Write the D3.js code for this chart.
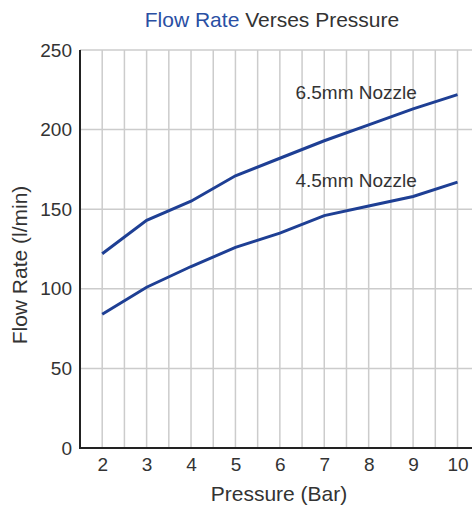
<!DOCTYPE html>
<html>
<head>
<meta charset="utf-8">
<script src="https://cdn.jsdelivr.net/npm/d3@7"></script>
<style>
  body { margin: 0; background: white; }
  text { font-family: "Liberation Sans", Arial, sans-serif; fill: #333; }
</style>
</head>
<body>
<div id="vis"></div>
<script>
// data
const pressure = [2, 3, 4, 5, 6, 7, 8, 9, 10];
const nozzle65 = [122, 143, 155, 171, 182, 193, 203, 213, 222];
const nozzle45 = [84, 101, 114, 126, 135, 146, 152, 158, 167];
const seriesNames = ["6.5mm Nozzle", "4.5mm Nozzle"];
const yTicks = [0, 50, 100, 150, 200, 250];
const xGrid = d3.range(2, 11, 0.5);

let width = 472;
let height = 506;

let margin = { top: 50, bottom: 58, left: 80, right: 0 };

let svg = d3.select("#vis")
  .append("svg")
  .attr("width", width)
  .attr("height", height)
  .style("background", "white");

// scales (x runs a bit past the right edge, as in the original crop)
let xScale = d3.scaleLinear()
  .domain([1.5, 10])
  .range([margin.left, 457.5]);

let yScale = d3.scaleLinear()
  .domain([0, 250])
  .range([height - margin.bottom, margin.top]);

// grid
svg.append("g")
  .selectAll("line")
  .data(xGrid)
  .enter()
  .append("line")
  .attr("x1", d => xScale(d))
  .attr("x2", d => xScale(d))
  .attr("y1", yScale(250))
  .attr("y2", yScale(0))
  .attr("stroke", "#cccccc")
  .attr("stroke-width", 1.5);

svg.append("g")
  .selectAll("line")
  .data(yTicks.filter(d => d > 0))
  .enter()
  .append("line")
  .attr("x1", margin.left)
  .attr("x2", width)
  .attr("y1", d => yScale(d))
  .attr("y2", d => yScale(d))
  .attr("stroke", "#cccccc")
  .attr("stroke-width", 1.5);

// axes
let yAxis = svg.append("g")
  .attr("transform", `translate(${margin.left}, 0)`)
  .call(d3.axisLeft(yScale).tickValues(yTicks).tickSize(0).tickPadding(8));

let xAxis = svg.append("g")
  .attr("transform", `translate(0, ${yScale(0)})`)
  .call(d3.axisBottom(xScale).tickValues(pressure).tickSize(0).tickPadding(10));

yAxis.select(".domain").remove();
xAxis.select(".domain").remove();

svg.selectAll(".tick text")
  .style("font-size", "19px")
  .style("font-family", "Liberation Sans, Arial, sans-serif")
  .attr("fill", "#333");

svg.append("line")
  .attr("x1", margin.left).attr("x2", margin.left)
  .attr("y1", yScale(250)).attr("y2", yScale(0))
  .attr("stroke", "#222").attr("stroke-width", 2);

svg.append("line")
  .attr("x1", margin.left - 1).attr("x2", width)
  .attr("y1", yScale(0)).attr("y2", yScale(0))
  .attr("stroke", "#222").attr("stroke-width", 2);

// lines
let line = d3.line()
  .x((d, i) => xScale(pressure[i]))
  .y(d => yScale(d));

[nozzle65, nozzle45].forEach(function(s) {
  svg.append("path")
    .datum(s)
    .attr("d", line)
    .attr("fill", "none")
    .attr("stroke", "#1e3f94")
    .attr("stroke-width", 3);
});

// series labels
svg.append("text")
  .attr("x", xScale(6.35))
  .attr("y", yScale(219))
  .style("font-size", "19px")
  .text(seriesNames[0]);

svg.append("text")
  .attr("x", xScale(6.35))
  .attr("y", yScale(164))
  .style("font-size", "19px")
  .text(seriesNames[1]);

// title and axis labels
let title = svg.append("text")
  .attr("x", 272)
  .attr("y", 27)
  .attr("text-anchor", "middle")
  .style("font-size", "21px");
title.append("tspan").attr("fill", "#2a4fa3").style("fill", "#2a4fa3").text("Flow Rate");
title.append("tspan").text(" Verses Pressure");

svg.append("text")
  .attr("x", 279)
  .attr("y", 501)
  .attr("text-anchor", "middle")
  .style("font-size", "21px")
  .text("Pressure (Bar)");

svg.append("text")
  .attr("transform", "translate(27, 265) rotate(-90)")
  .attr("text-anchor", "middle")
  .style("font-size", "21px")
  .text("Flow Rate (l/min)");
</script>
</body>
</html>
